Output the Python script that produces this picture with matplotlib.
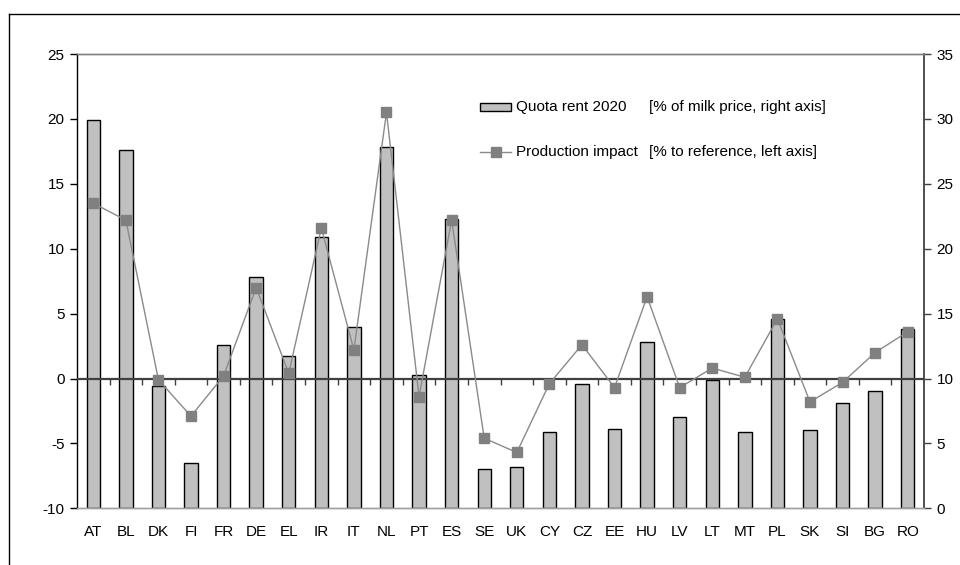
import numpy as np
import matplotlib
matplotlib.use("Agg")
import matplotlib.pyplot as plt
from matplotlib.patches import Rectangle
from matplotlib.lines import Line2D

plt.rcParams["font.family"] = ["Liberation Sans", "DejaVu Sans"]
plt.rcParams["axes.unicode_minus"] = False

countries = ["AT", "BL", "DK", "FI", "FR", "DE", "EL", "IR", "IT", "NL", "PT", "ES", "SE",
             "UK", "CY", "CZ", "EE", "HU", "LV", "LT", "MT", "PL", "SK", "SI", "BG", "RO"]
quota_rent = [29.9, 27.6, 9.4, 3.5, 12.6, 17.8, 11.7, 20.9, 14.0, 27.8, 10.3, 22.3, 3.0,
              3.2, 5.9, 9.6, 6.1, 12.8, 7.0, 9.9, 5.9, 14.6, 6.0, 8.1, 9.0, 13.8]
production_impact = [13.5, 12.2, -0.1, -2.9, 0.2, 7.0, 0.4, 11.6, 2.2, 20.5, -1.4, 12.2, -4.6,
                     -5.7, -0.4, 2.6, -0.7, 6.3, -0.7, 0.8, 0.1, 4.6, -1.8, -0.3, 2.0, 3.6]
left_ticks = [-10, -5, 0, 5, 10, 15, 20, 25]
right_ticks = [0, 5, 10, 15, 20, 25, 30, 35]

W, H = 960, 565
FS = 11
fig = plt.figure(figsize=(W / 100, H / 100), dpi=100)

def fx(px):
    return px / W

def fy(py):
    return 1 - py / H

ax1 = fig.add_axes([fx(77), fy(508.3), fx(924) - fx(77), fy(54) - fy(508.3)])
ax2 = ax1.twinx()
ax1.set_zorder(ax2.get_zorder() + 1)
ax1.patch.set_visible(False)

x = np.arange(len(countries))

# bars on the right-hand axis
ax2.bar(x, quota_rent, width=0.41, color="#c0c0c0", edgecolor="black", linewidth=1.0, zorder=2)
ax2.set_ylim(right_ticks[0], right_ticks[-1])
ax2.set_yticks(right_ticks)

# production impact line on the left-hand axis
ax1.set_ylim(left_ticks[0], left_ticks[-1])
ax1.set_yticks(left_ticks)
ax1.set_xlim(-0.5, len(countries) - 0.5)
ax1.axhline(0, color="#404040", linewidth=1.6, zorder=3)
bounds = np.arange(len(countries) - 1) + 0.5
ax1.plot(bounds, np.zeros_like(bounds), linestyle="none", marker=3, markersize=4,
         color="#404040", markeredgewidth=1.0, zorder=3)
ax1.plot(x, production_impact, color="#8a8a8a", linewidth=1.0, marker="s", markersize=7.5,
         markerfacecolor="#808080", markeredgecolor="#808080", zorder=4)

ax1.set_xticks(x)
ax1.set_xticklabels(countries)
ax1.tick_params(axis="x", length=0, pad=12, labelsize=FS)
ax1.tick_params(axis="y", direction="out", length=5, width=1, pad=4, labelsize=FS, color="black")
ax2.tick_params(axis="y", direction="out", length=5, width=1, pad=4, labelsize=FS, color="#404040")

for ax in (ax1, ax2):
    ax.spines["top"].set_color("#808080")
    ax.spines["bottom"].set_color("#a0a0a0")
    ax.spines["top"].set_linewidth(1.0)
    ax.spines["bottom"].set_linewidth(1.0)
ax1.spines["left"].set_color("black")
ax1.spines["left"].set_linewidth(1.0)
ax1.spines["right"].set_visible(False)
ax2.spines["left"].set_visible(False)
ax2.spines["right"].set_color("#404040")
ax2.spines["right"].set_linewidth(1.3)

# legend
fig.patches.append(Rectangle((fx(480), fy(111)), fx(511) - fx(480), fy(103) - fy(111),
                             transform=fig.transFigure, facecolor="#c0c0c0",
                             edgecolor="black", linewidth=1.0))
fig.lines.append(Line2D([fx(480), fx(511)], [fy(152), fy(152)], transform=fig.transFigure,
                        color="#8a8a8a", linewidth=1.0))
fig.lines.append(Line2D([fx(496)], [fy(152)], transform=fig.transFigure, marker="s",
                        markersize=7.5, color="#808080", linestyle="none"))
fig.text(fx(516), fy(107), "Quota rent 2020", fontsize=FS, va="center", ha="left")
fig.text(fx(649), fy(107), "[% of milk price, right axis]", fontsize=FS, va="center", ha="left")
fig.text(fx(516), fy(152), "Production impact", fontsize=FS, va="center", ha="left")
fig.text(fx(649), fy(152), "[% to reference, left axis]", fontsize=FS, va="center", ha="left")

# outer frame
fig.lines.append(Line2D([fx(9), 1.0], [fy(13.5), fy(13.5)], transform=fig.transFigure,
                        color="black", linewidth=1.0))
fig.lines.append(Line2D([fx(9), fx(9)], [fy(13.5), 0.0], transform=fig.transFigure,
                        color="black", linewidth=1.0))

fig.savefig("out.png", dpi=100)
